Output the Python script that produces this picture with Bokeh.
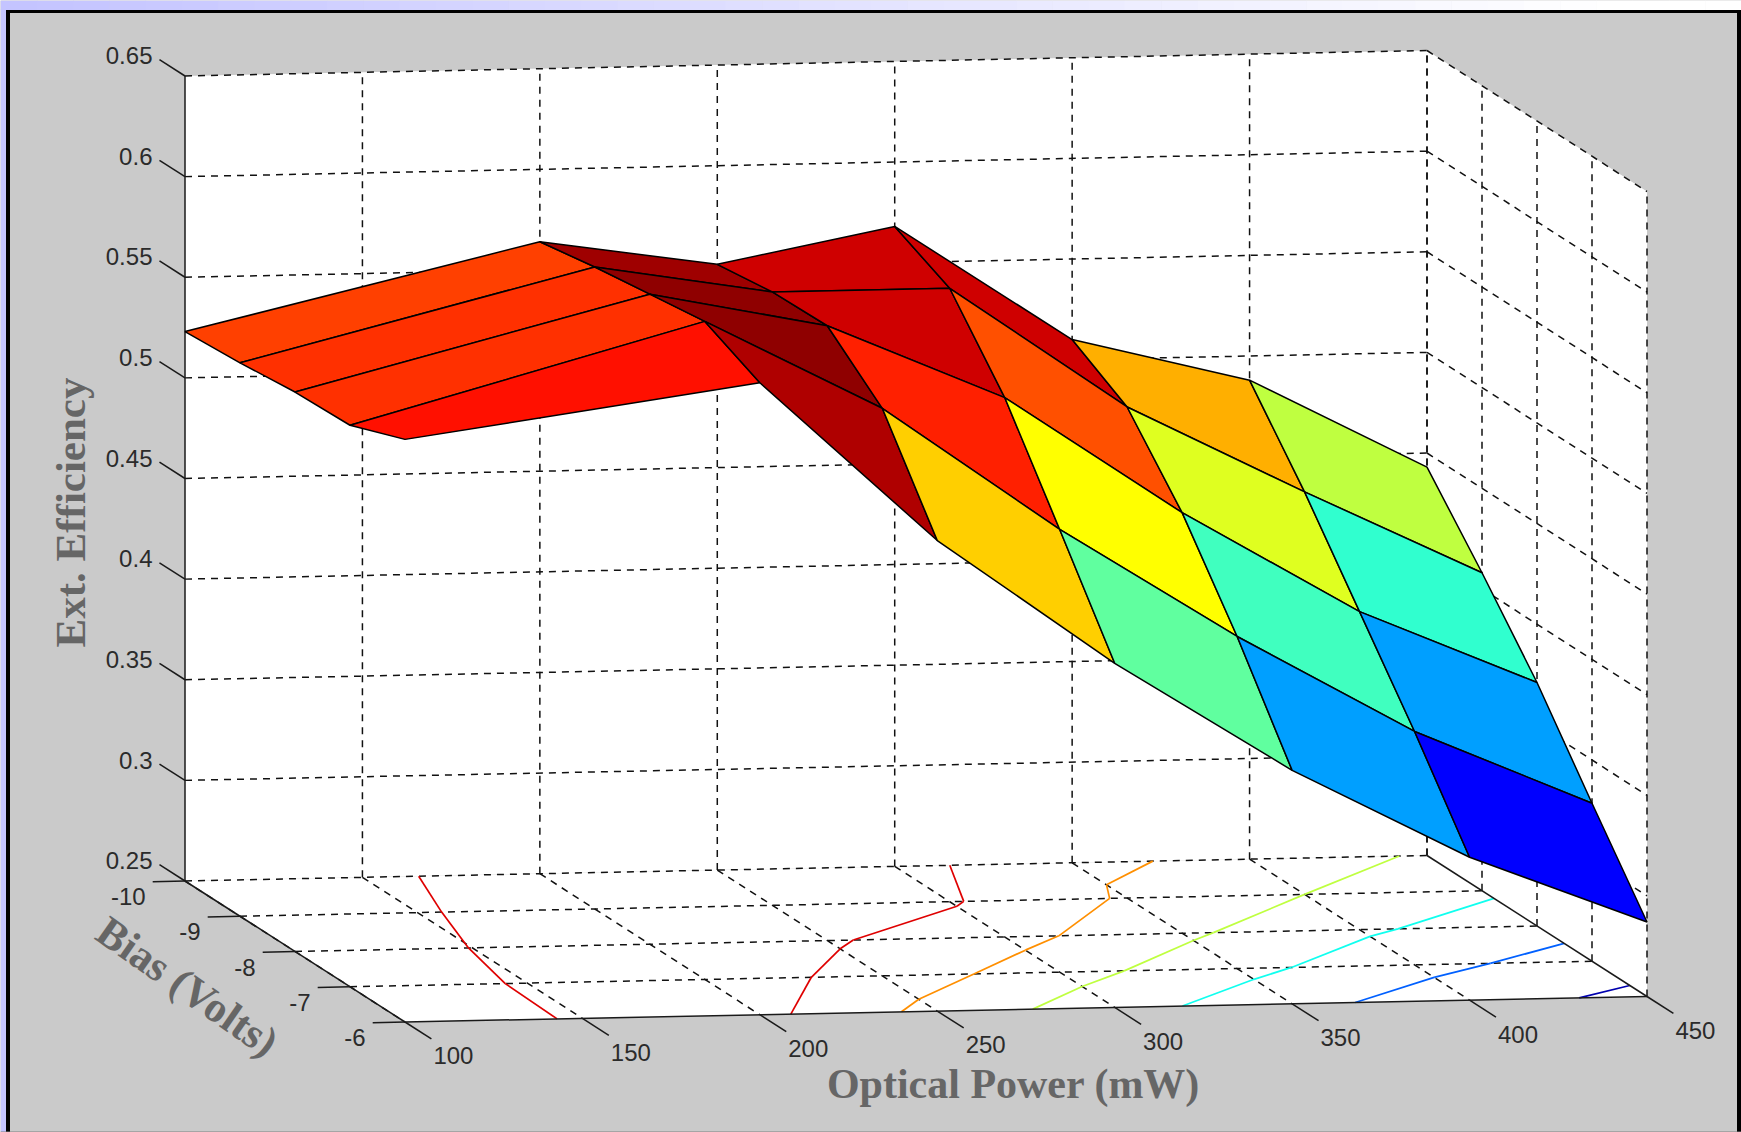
from bokeh.plotting import figure
from bokeh.embed import file_html
from bokeh.resources import INLINE
from bokeh.core.properties import value

# ---------- data ----------
power_mw = [100, 200, 250, 300, 350, 400, 450]
bias_v = [-10, -9, -8, -7, -6]
eff_power_100 = [0.523, 0.525, 0.528, 0.529, 0.5395]
eff_power_200 = [0.564, 0.569, 0.573, 0.577, 0.564]
eff_power_250 = [0.551, 0.5548, 0.5555, 0.532, 0.4838]
eff_power_300 = [0.568, 0.5548, 0.518, 0.470, 0.421]
eff_power_350 = [0.510, 0.494, 0.459, 0.415, 0.366]
eff_power_400 = [0.488, 0.450, 0.408, 0.366, 0.321]
eff_power_450 = [0.443, 0.408, 0.371, 0.3285, 0.287]
eff = [eff_power_100, eff_power_200, eff_power_250, eff_power_300,
       eff_power_350, eff_power_400, eff_power_450]
x_ticks = [100, 150, 200, 250, 300, 350, 400, 450]
y_ticks = [-10, -9, -8, -7, -6]
z_ticks = [0.25, 0.3, 0.35, 0.4, 0.45, 0.5, 0.55, 0.6, 0.65]
z_labels = ["0.25", "0.3", "0.35", "0.4", "0.45", "0.5", "0.55", "0.6", "0.65"]
contour_levels = [0.3, 0.35, 0.4, 0.45, 0.5, 0.55]
color_min, color_max = 0.287, 0.582

W, H = 1741, 1132
X0, X1, Y0, Y1, Z0, Z1 = 100, 450, -10, -6, 0.25, 0.65


def proj(x, y, z):
    """Orthographic view of the MATLAB-style 3D box."""
    u = (x - X0) / (X1 - X0)
    v = (y - Y0) / (Y1 - Y0)
    w = (z - Z0) / (Z1 - Z0)
    return (184.5 + 1242 * u + 220 * v, 880.5 - 25.5 * u + 141 * v - 805 * w)


# MATLAB's 64-entry jet colormap
_u = [k / 16 for k in range(1, 17)] + [1.0] * 15 + [k / 16 for k in range(16, 0, -1)]


def jet(z):
    t = (z - color_min) / (color_max - color_min)
    pos = min(64, max(1, int(t * 64) + 1))
    def at(k):
        return _u[k] if 0 <= k < len(_u) else 0.0
    return "#%02x%02x%02x" % tuple(int(round(255 * c)) for c in (at(pos - 25), at(pos - 9), at(pos + 7)))


p = figure(width=W, height=H, x_range=(0, W), y_range=(H, 0), toolbar_location=None,
           output_backend="svg", min_border=0, background_fill_color="#cacaca",
           border_fill_color="#cacaca", outline_line_color=None)
p.axis.visible = False
p.grid.visible = False
p.styles = {"position": "absolute", "left": "0px", "top": "0px"}

# ---------- window chrome ----------
n = 48
left = [i * W / n for i in range(n)]
right = [(i + 1) * W / n + 0.5 for i in range(n)]
cols = []
for i in range(n):
    f = min(1.0, i / (n * 0.9))
    g = int(0xc4 + (0xff - 0xc4) * f)
    cols.append("#%02x%02xff" % (g, g))
p.quad(left=left, right=right, top=[0] * n, bottom=[9.5] * n, fill_color=cols, line_color=None)
p.quad(left=[0], right=[5.5], top=[9], bottom=[H], fill_color="#c4c4ff", line_color=None)
p.quad(left=[5.5, 5.5, 1736.5], right=[9.5, W, W], top=[9.5, 9.5, 9.5], bottom=[H, 12.5, H],
       fill_color="black", line_color=None)
p.quad(left=[0], right=[W], top=[H - 1], bottom=[H], fill_color="#808080", line_color=None)

# ---------- walls ----------
wall_xs, wall_ys = [], []
for corners in (
    [(X0, Y0, Z0), (X1, Y0, Z0), (X1, Y0, Z1), (X0, Y0, Z1)],
    [(X1, Y0, Z0), (X1, Y1, Z0), (X1, Y1, Z1), (X1, Y0, Z1)],
    [(X0, Y0, Z0), (X1, Y0, Z0), (X1, Y1, Z0), (X0, Y1, Z0)],
):
    pts = [proj(*c) for c in corners]
    wall_xs.append([a for a, _ in pts])
    wall_ys.append([b for _, b in pts])
p.patches(wall_xs, wall_ys, fill_color="white", line_color=None)


def seg(points):
    pts = [proj(*c) for c in points]
    return [a for a, _ in pts], [b for _, b in pts]


# ---------- dashed grid ----------
dash_segments = []
for x in x_ticks:
    if x != X0:
        dash_segments.append(seg([(x, Y0, Z0), (x, Y0, Z1)]))
    if x != X1:
        dash_segments.append(seg([(x, Y0, Z0), (x, Y1, Z0)]))
for y in y_ticks:
    if y != Y1:
        dash_segments.append(seg([(X0, y, Z0), (X1, y, Z0)]))
    dash_segments.append(seg([(X1, y, Z0), (X1, y, Z1)]))
for z in z_ticks:
    if z != Z0:
        dash_segments.append(seg([(X0, Y0, z), (X1, Y0, z)]))
        dash_segments.append(seg([(X1, Y0, z), (X1, Y1, z)]))
p.multi_line([s[0] for s in dash_segments], [s[1] for s in dash_segments],
             line_color="#111111", line_width=1.5, line_dash="7 6")

# ---------- contours on the floor ----------
def contour_segments(level):
    out = []
    for i in range(len(power_mw) - 1):
        for j in range(len(bias_v) - 1):
            corners = [(i, j), (i + 1, j), (i + 1, j + 1), (i, j + 1)]
            hits = []
            for k in range(4):
                a, b = corners[k], corners[(k + 1) % 4]
                za, zb = eff[a[0]][a[1]], eff[b[0]][b[1]]
                if (za < level) != (zb < level):
                    t = (level - za) / (zb - za)
                    hits.append((power_mw[a[0]] + t * (power_mw[b[0]] - power_mw[a[0]]),
                                 bias_v[a[1]] + t * (bias_v[b[1]] - bias_v[a[1]])))
            for h in range(0, len(hits) - 1, 2):
                out.append(seg([(hits[h][0], hits[h][1], Z0), (hits[h + 1][0], hits[h + 1][1], Z0)]))
    return out


for lev in contour_levels:
    s = contour_segments(lev)
    p.multi_line([q[0] for q in s], [q[1] for q in s], line_color=jet(lev), line_width=1.7)

# ---------- solid axes and ticks ----------
solid = [seg([(X0, Y0, Z0), (X0, Y0, Z1)]), seg([(X0, Y0, Z0), (X0, Y1, Z0)]),
         seg([(X0, Y1, Z0), (X1, Y1, Z0)]), seg([(X1, Y0, Z0), (X1, Y1, Z0)])]
for z in z_ticks:
    solid.append(seg([(X0, Y0, z), (X0, Y0 - 0.116 * (Y1 - Y0), z)]))
for y in y_ticks:
    solid.append(seg([(X0, y, Z0), (X0 - 0.026 * (X1 - X0), y, Z0)]))
for x in x_ticks:
    solid.append(seg([(x, Y1, Z0), (x, Y1 + 0.12 * (Y1 - Y0), Z0)]))
p.multi_line([s[0] for s in solid], [s[1] for s in solid], line_color="#1a1a1a", line_width=1.5)

# ---------- surface ----------
fx, fy, fc = [], [], []
for j in range(len(bias_v) - 1):
    for i in range(len(power_mw) - 1):
        pts = [proj(power_mw[a], bias_v[b], eff[a][b])
               for a, b in ((i, j), (i + 1, j), (i + 1, j + 1), (i, j + 1))]
        fx.append([q[0] for q in pts])
        fy.append([q[1] for q in pts])
        fc.append(jet(eff[i][j + 1]))
p.patches(fx, fy, fill_color=fc, line_color="black", line_width=1.5)

# ---------- tick labels ----------
font = value("Liberation Sans")
tick_color = "#2b2b2b"
for z, lab in zip(z_ticks, z_labels):
    a, b = proj(X0, Y0 - 0.116 * (Y1 - Y0), z)
    p.text([a - 7], [b - 4], text=[lab], text_font=font, text_font_size="24px", text_color=tick_color,
           text_align="right", text_baseline="middle")
for y in y_ticks:
    a, b = proj(X0 - 0.026 * (X1 - X0), y, Z0)
    p.text([a - 7], [b + 15], text=[str(y)], text_font=font, text_font_size="24px", text_color=tick_color,
           text_align="right", text_baseline="middle")
for x in x_ticks:
    a, b = proj(x, Y1 + 0.12 * (Y1 - Y0), Z0)
    p.text([a + 22], [b + 17], text=[str(x)], text_font=font, text_font_size="24px", text_color=tick_color,
           text_align="center", text_baseline="middle")

# ---------- axis titles ----------
serif = value("Liberation Serif")
title_color = "#666666"
p.text([70], [512], text=["Ext. Efficiency"], angle=[90], angle_units="deg", text_font=serif,
       text_font_size="43px", text_font_style="bold", text_color=title_color,
       text_align="center", text_baseline="middle")
p.text([1013], [1083], text=["Optical Power (mW)"], text_font=serif, text_font_size="42px",
       text_font_style="bold", text_color=title_color, text_align="center", text_baseline="middle")
p.text([187], [986], text=["Bias (Volts)"], angle=[-35], angle_units="deg", text_font=serif,
       text_font_size="43px", text_font_style="bold", text_color=title_color,
       text_align="center", text_baseline="middle")

open("out.html", "w").write(file_html(p, INLINE))
